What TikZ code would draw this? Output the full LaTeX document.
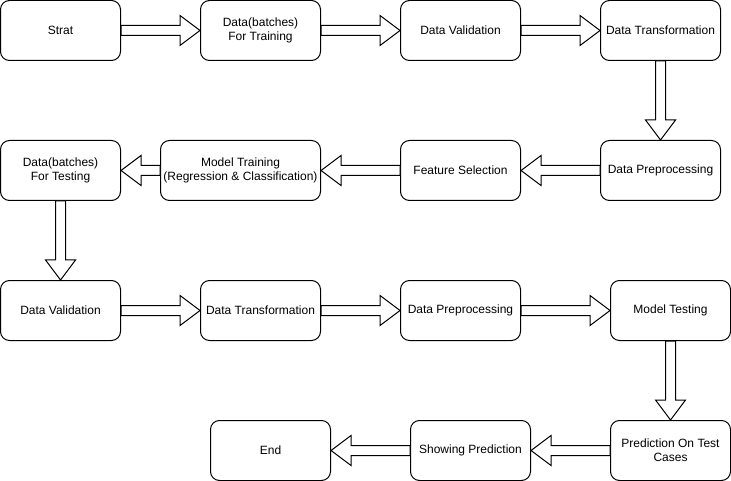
\documentclass[tikz,border=0pt]{standalone}
\usepackage{fontspec}
\setmainfont{Liberation Sans}
\usetikzlibrary{calc}

% hollow block arrow from one node anchor to another
\newcommand{\blockarrow}[2]{%
  \draw[blockarr] let \p1=(#1), \p2=(#2),
    \n1={atan2(\y2-\y1,\x2-\x1)}, \n2={veclen(\x2-\x1,\y2-\y1)} in
    [shift={(\p1)}, rotate=\n1]
    (0,5) -- (\n2-20,5) -- (\n2-20,15) -- (\n2,0) -- (\n2-20,-15)
    -- (\n2-20,-5) -- (0,-5) -- cycle;}

\begin{document}
\begin{tikzpicture}[x=1pt, y=1pt,
  flowbox/.style={rectangle, draw, line width=1pt, rounded corners=9pt,
    minimum width=120pt, minimum height=60pt, inner sep=0pt, align=center,
    font=\fontsize{12}{14}\selectfont},
  blockarr/.style={draw, fill=white, line width=1pt, line join=miter}]
\useasboundingbox (0,0) rectangle (731,-481);

% Training row
\node[flowbox] (start) at (60.5,-30.5) {Strat};
\node[flowbox] (train) at (260.5,-30.5) {Data(batches)\\For Training};
\node[flowbox] (val1) at (460.5,-30.5) {Data Validation};
\node[flowbox] (trans1) at (660.5,-30.5) {Data Transformation};

% Back row
\node[flowbox] (prep1) at (660.5,-170.5) {Data Preprocessing};
\node[flowbox] (feat) at (460.5,-170.5) {Feature Selection};
\node[flowbox, minimum width=160pt] (model) at (240.5,-170.5) {Model Training\\(Regression \& Classification)};
\node[flowbox] (test) at (60.5,-170.5) {Data(batches)\\For Testing};

% Testing row
\node[flowbox] (val2) at (60.5,-310.5) {Data Validation};
\node[flowbox] (trans2) at (260.5,-310.5) {Data Transformation};
\node[flowbox] (prep2) at (460.5,-310.5) {Data Preprocessing};
\node[flowbox] (mtest) at (670.5,-310.5) {Model Testing};

% Prediction row
\node[flowbox] (pred) at (670.5,-450.5) {Prediction On Test\\Cases};
\node[flowbox] (show) at (470.5,-450.5) {Showing Prediction};
\node[flowbox] (endn) at (270.5,-450.5) {End};

% Arrows
\blockarrow{start.east}{train.west}
\blockarrow{train.east}{val1.west}
\blockarrow{val1.east}{trans1.west}
\blockarrow{trans1.south}{prep1.north}
\blockarrow{prep1.west}{feat.east}
\blockarrow{feat.west}{model.east}
\blockarrow{model.west}{test.east}
\blockarrow{test.south}{val2.north}
\blockarrow{val2.east}{trans2.west}
\blockarrow{trans2.east}{prep2.west}
\blockarrow{prep2.east}{mtest.west}
\blockarrow{mtest.south}{pred.north}
\blockarrow{pred.west}{show.east}
\blockarrow{show.west}{endn.east}
\end{tikzpicture}
\end{document}
